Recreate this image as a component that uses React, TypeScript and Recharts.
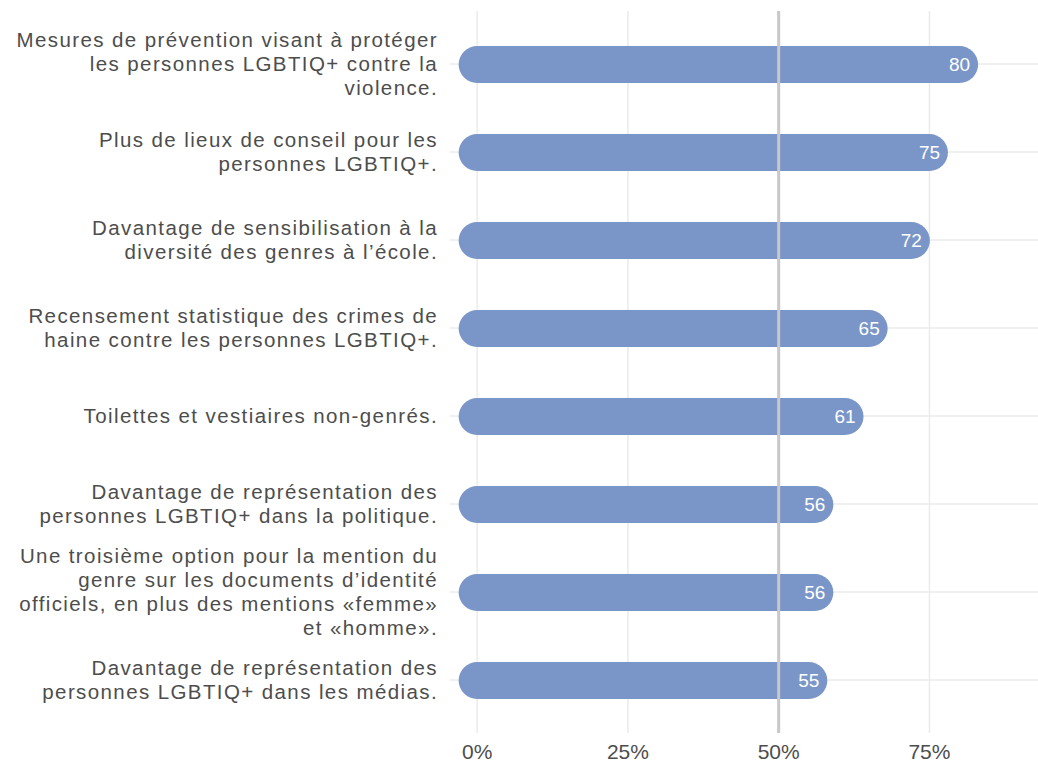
import { BarChart, Bar, XAxis, YAxis, CartesianGrid, ReferenceLine, LabelList } from 'recharts'

// Survey items, top to bottom (line breaks as in the original labels)
const categories = [
  'Mesures de prévention visant à protéger\nles personnes LGBTIQ+ contre la\nviolence.',
  'Plus de lieux de conseil pour les\npersonnes LGBTIQ+.',
  'Davantage de sensibilisation à la\ndiversité des genres à l’école.',
  'Recensement statistique des crimes de\nhaine contre les personnes LGBTIQ+.',
  'Toilettes et vestiaires non-genrés.',
  'Davantage de représentation des\npersonnes LGBTIQ+ dans la politique.',
  'Une troisième option pour la mention du\ngenre sur les documents d’identité\nofficiels, en plus des mentions «femme»\net «homme».',
  'Davantage de représentation des\npersonnes LGBTIQ+ dans les médias.',
]
const shares = [80, 75, 72, 65, 61, 56, 56, 55]
const xTicks = [0, 25, 50, 75]

const FONT = '"Liberation Sans", Arial, sans-serif'
const BAR_COLOR = '#7a96c8'
const TEXT_COLOR = '#4d4d4d'
const GRID_COLOR = '#ebebeb'

const chartData = categories.map((label, i) => ({ label, value: shares[i] }))

// Segment with round caps: extend the rect by half its height on each side
function PillBar(props: any) {
  const { x, y, width, height } = props
  const r = height / 2
  return <rect x={x - r} y={y} width={width + height} height={height} rx={r} ry={r} fill={BAR_COLOR} />
}

function CategoryTick(props: any) {
  const { x, y, payload } = props
  const lines = String(payload.value).split('\n')
  const lh = 24
  const start = -((lines.length - 1) * lh) / 2
  return (
    <text
      x={x}
      y={y}
      textAnchor="end"
      fill={TEXT_COLOR}
      fontSize={20.5}
      letterSpacing={1.4}
      fontFamily={FONT}
    >
      {lines.map((line, i) => (
        <tspan key={i} x={x} y={y + start + i * lh} dy="0.35em">
          {line}
        </tspan>
      ))}
    </text>
  )
}

function ValueLabel(props: any) {
  const { x, y, width, height, value } = props
  return (
    <text
      x={x + width}
      y={y + height / 2}
      dy="0.35em"
      textAnchor="middle"
      fill="#ffffff"
      fontSize={19}
      fontFamily={FONT}
    >
      {value}
    </text>
  )
}

export default function App() {
  return (
    <div style={{ width: 1038, height: 762, background: '#fff' }}>
      <style>{'body{margin:0}'}</style>
      <BarChart
        width={1038}
        height={762}
        data={chartData}
        layout="vertical"
        margin={{ top: 11, right: 0, bottom: 0, left: 0 }}
      >
        <CartesianGrid stroke={GRID_COLOR} strokeWidth={1.5} syncWithTicks />
        <XAxis
          type="number"
          domain={[-4.5, 93]}
          ticks={xTicks}
          tickFormatter={(v) => `${v}%`}
          axisLine={false}
          tickLine={false}
          tickMargin={5}
          height={29}
          allowDataOverflow
          tick={{ fill: TEXT_COLOR, fontSize: 21, fontFamily: FONT }}
        />
        <YAxis
          type="category"
          dataKey="label"
          width={450}
          axisLine={false}
          tickLine={false}
          tickSize={0}
          tickMargin={12}
          padding={{ top: 9, bottom: 9 }}
          interval={0}
          tick={<CategoryTick />}
        />
        <ReferenceLine x={50} stroke="#c8c8c8" strokeWidth={3} />
        <Bar dataKey="value" barSize={37} shape={<PillBar />} isAnimationActive={false}>
          <LabelList dataKey="value" content={<ValueLabel />} />
        </Bar>
      </BarChart>
    </div>
  )
}
